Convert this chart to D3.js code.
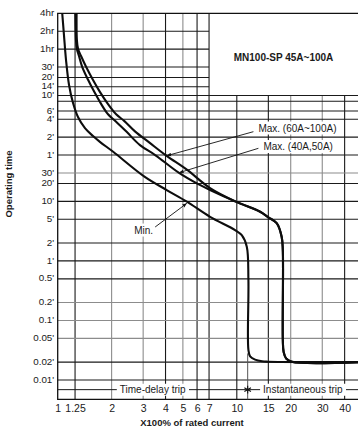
<!DOCTYPE html>
<html>
<head>
<meta charset="utf-8">
<script src="https://d3js.org/d3.v7.min.js"></script>
<style>
body { margin: 0; background: #fff; }
svg text { font-family: "Liberation Sans", Arial, sans-serif; fill: #1a1a1a; }
</style>
</head>
<body>
<svg width="358" height="437"></svg>
<script>
// x: multiples of rated current
const xTicks = [1, 1.25, 2, 3, 4, 5, 6, 7, 10, 15, 20, 30, 40];
const xTickLabels = ["1", "1.25", "2", "3", "4", "5", "6", "7", "10", "15", "20", "30", "40"];
// y: operating time in seconds
const yTicks = [14400, 7200, 3600, 1800, 1200, 840, 600, 480, 330, 240, 120, 60, 30, 20, 10, 5, 2, 1, 0.5, 0.2, 0.1, 0.05, 0.02, 0.01];
const yTickLabels = ["4hr", "2hr", "1hr", "30'", "20'", "14'", "10'", "", "6'", "4'", "2'", "1'", "30'", "20'", "10'", "5'", "2'", "1'", "0.5'", "0.2'", "0.1'", "0.05'", "0.02'", "0.01'"];

// curves as [multiple, seconds]
const minCurve = [[1.06, 14400], [1.084, 6200], [1.113, 2360], [1.157, 900], [1.218, 448], [1.298, 261], [1.42, 170],
  [1.575, 125], [1.72, 100], [2.04, 68], [3.05, 26], [4.06, 15.5], [5.26, 9.9], [7.09, 5.5], [9.78, 3.3],
  [10.66, 2.7], [11.37, 1.73], [11.61, 0.48], [11.61, 0.032], [11.87, 0.025], [12.65, 0.022], [13.84, 0.0206],
  [15, 0.0203], [47.5, 0.02]];
const max60to100 = [[1.275, 14400], [1.28, 5100], [1.30, 3600], [1.35, 2760], [1.44, 1820], [1.575, 1090], [1.72, 690],
  [1.91, 430], [2.12, 290], [2.35, 225], [2.70, 150], [3.28, 95], [4.06, 58], [5.26, 34], [7.09, 16.7], [9.87, 9.9],
  [13.5, 6.7], [15.0, 5.4], [16.7, 4.3], [17.8, 2.55], [18.07, 1.5], [18.07, 0.047], [18.26, 0.0295], [18.86, 0.023],
  [20.3, 0.0203], [47.5, 0.02]];
const max40and50 = [[1.255, 14400], [1.265, 5100], [1.28, 3600], [1.315, 2760], [1.37, 1820], [1.48, 1090], [1.60, 690],
  [1.75, 430], [1.91, 290], [2.09, 225], [2.41, 150], [2.88, 88], [3.50, 60], [4.76, 30], [5.98, 20], [7.09, 15.5],
  [9.87, 9.9], [13.5, 6.7], [15.0, 5.4], [16.7, 4.3], [17.8, 2.55], [18.07, 1.5], [18.07, 0.047], [18.26, 0.0295],
  [18.86, 0.023], [20.3, 0.0203], [47.5, 0.02]];

// labels with leader lines: text spot, leader start, leader tip
const notes = [
  { text: "Max. (60A~100A)", at: [13.2, 149], from: [12.38, 148], to: [4.06, 58.4], anchor: "start" },
  { text: "Max. (40A,50A)", at: [14.08, 72.8], from: [13.2, 77.8], to: [4.76, 30.3], anchor: "start" },
  { text: "Min.", at: [3.41, 2.88], from: [3.5, 3.71], to: [5.26, 9.27], anchor: "end" }
];
const title = "MN100-SP 45A~100A";
const instantStart = 11.5;   // boundary between time-delay and instantaneous trip

var svg = d3.select("svg");
var x = d3.scaleLog().domain([1, 47.5]).range([57.7, 358]);
var y = d3.scaleLog().domain([0.01, 14400]).range([380, 13.3]);
var plotTop = y(14400), plotBottom = 399.3, plotLeft = x(1), plotRight = 358;
var boxX = 7, boxT = 600;   // empty title box in upper right

var lightX = [2, 3, 5, 20, 30], lightY = [0.2, 0.1, 0.05, 30];

// grid
var grid = svg.append("g");
grid.selectAll(".vx").data(xTicks.slice(1)).enter().append("line")
  .attr("x1", d => x(d)).attr("x2", d => x(d))
  .attr("y1", d => d > boxX ? y(boxT) : plotTop).attr("y2", plotBottom)
  .attr("stroke", d => lightX.includes(d) ? "#8c8c8c" : "#1a1a1a").attr("stroke-width", 1.1);
grid.selectAll(".hy").data(yTicks.slice(1)).enter().append("line")
  .attr("y1", d => y(d)).attr("y2", d => y(d))
  .attr("x1", plotLeft).attr("x2", d => d > boxT ? x(boxX) : plotRight)
  .attr("stroke", d => lightY.includes(d) ? "#8c8c8c" : "#1a1a1a").attr("stroke-width", 1.1);

// frame
svg.append("path")
  .attr("d", "M" + plotRight + "," + plotTop + "H" + plotLeft + "V" + plotBottom + "H" + plotRight)
  .attr("fill", "none").attr("stroke", "#111").attr("stroke-width", 1.3);

// trip zones row
var rowY = (y(0.01) + plotBottom) / 2;
svg.append("line").attr("x1", plotLeft).attr("x2", plotRight).attr("y1", rowY).attr("y2", rowY)
  .attr("stroke", "#1a1a1a").attr("stroke-width", 1);
svg.append("line").attr("x1", x(instantStart)).attr("x2", x(instantStart))
  .attr("y1", y(0.028)).attr("y2", plotBottom).attr("stroke", "#555").attr("stroke-width", 1);
var zones = [["Time-delay trip", Math.sqrt(1 * instantStart)], ["Instantaneous trip", Math.sqrt(instantStart * 47.5)]];
zones.forEach(function(z) {
  var t = svg.append("text").attr("x", x(z[1])).attr("y", rowY + 3.6)
    .attr("text-anchor", "middle").attr("font-size", 10).text(z[0]);
  var b = t.node().getBBox();
  svg.insert("rect", "text").attr("x", b.x - 3).attr("y", b.y - 0.5)
    .attr("width", b.width + 6).attr("height", b.height + 1).attr("fill", "#fff");
});
svg.append("path").attr("d", d3.symbol(d3.symbolAsterisk, 40)())
  .attr("transform", "translate(" + x(instantStart) + "," + rowY + ")")
  .attr("stroke", "#111").attr("stroke-width", 1.1);

// curves
var line = d3.line().x(d => x(d[0])).y(d => y(d[1])).curve(d3.curveCatmullRom.alpha(0.5));
svg.selectAll(".curve").data([minCurve, max40and50, max60to100]).enter().append("path")
  .attr("d", line).attr("fill", "none").attr("stroke", "#0d0d0d").attr("stroke-width", 2.1);

// annotations
svg.append("defs").append("marker").attr("id", "arr").attr("viewBox", "0 0 10 10")
  .attr("refX", 10).attr("refY", 5).attr("markerWidth", 5).attr("markerHeight", 5).attr("orient", "auto")
  .append("path").attr("d", "M0,1L10,5L0,9z").attr("fill", "#111");
notes.forEach(function(n) {
  var t = svg.append("text").attr("x", x(n.at[0])).attr("y", y(n.at[1]))
    .attr("text-anchor", n.anchor).attr("font-size", 10).text(n.text);
  var b = t.node().getBBox();
  svg.insert("rect", "text").attr("x", b.x - 2).attr("y", b.y - 1)
    .attr("width", b.width + 4).attr("height", b.height + 2).attr("fill", "#fff");
  svg.append("line").attr("x1", x(n.from[0])).attr("y1", y(n.from[1]))
    .attr("x2", x(n.to[0])).attr("y2", y(n.to[1]))
    .attr("stroke", "#111").attr("stroke-width", 0.9).attr("marker-end", "url(#arr)");
});

// title
svg.append("text").attr("x", (x(boxX) + plotRight) / 2).attr("y", (plotTop + y(boxT)) / 2 + 7)
  .attr("text-anchor", "middle").attr("font-size", 10).attr("font-weight", "bold").text(title);

// axes labels
var yAxis = d3.axisLeft(y).tickValues(yTicks).tickFormat((d, i) => yTickLabels[i]).tickSize(0).tickPadding(3.5);
svg.append("g").attr("transform", "translate(" + plotLeft + ",-1)").call(yAxis)
  .call(g => g.select(".domain").remove())
  .selectAll("text").attr("font-size", 9.8).attr("font-family", null).attr("fill", "#1a1a1a");
var xAxis = d3.axisBottom(x).tickValues(xTicks).tickFormat((d, i) => xTickLabels[i]).tickSize(0).tickPadding(5);
svg.append("g").attr("transform", "translate(0," + plotBottom + ")").call(xAxis)
  .call(g => g.select(".domain").remove())
  .selectAll("text").attr("font-size", 10.5).attr("font-family", null).attr("fill", "#1a1a1a");

svg.append("text").attr("x", 192).attr("y", 426).attr("text-anchor", "middle")
  .attr("font-size", 9.5).attr("font-weight", "bold").text("X100% of rated current");
svg.append("text").attr("transform", "translate(12,184) rotate(-90)").attr("text-anchor", "middle")
  .attr("font-size", 9.5).attr("font-weight", "bold").text("Operating time");
</script>
</body>
</html>
